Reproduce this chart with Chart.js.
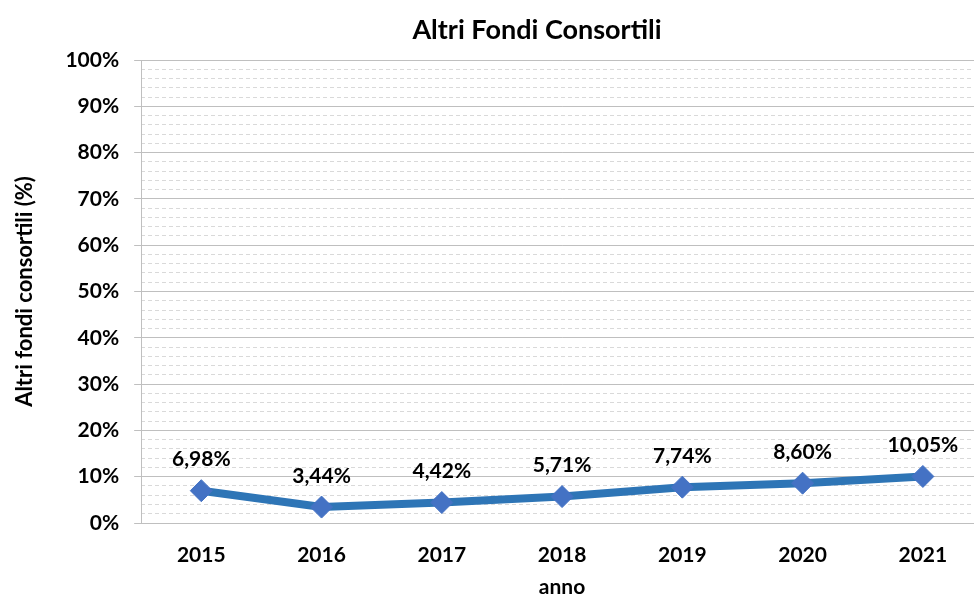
<!DOCTYPE html>
<html>
<head>
<meta charset="utf-8">
<script src="https://cdn.jsdelivr.net/npm/chart.js@4/dist/chart.umd.min.js"></script>
<style>
  html, body { margin: 0; padding: 0; background: #fff; overflow: hidden; }
  /* il grafico originale è tagliato a destra: il canvas è più largo della finestra */
  #wrap { width: 1080px; height: 597px; }
</style>
</head>
<body>
<div id="wrap"><canvas id="chart"></canvas></div>
<script>
// dati
const anni = ["2015", "2016", "2017", "2018", "2019", "2020", "2021"];
const valori = [6.98, 3.44, 4.42, 5.71, 7.74, 8.60, 10.05];
const etichette = ["6,98%", "3,44%", "4,42%", "5,71%", "7,74%", "8,60%", "10,05%"];
const titolo = "Altri Fondi Consortili";

const FONT = "Lato, 'Open Sans', sans-serif";

// titolo (spostato come nell'originale) ed etichette sopra i punti
const etichettePlugin = {
    id: "etichette",
    afterDatasetsDraw(chart) {
        let ctx = chart.ctx;
        let meta = chart.getDatasetMeta(0);
        ctx.save();
        ctx.fillStyle = "#000";
        ctx.textAlign = "center";
        ctx.textBaseline = "middle";
        ctx.font = "bold 27px " + FONT;
        ctx.fillText(titolo, 537, 30);
        ctx.font = "bold 21px " + FONT;
        meta.data.forEach((p, i) => {
            ctx.fillText(etichette[i], p.x, p.y - 31);
        });
        ctx.restore();
    }
};

let ctx = document.getElementById("chart").getContext("2d");
new Chart(ctx, {
    type: "line",
    data: {
        labels: anni,
        datasets: [{
            data: valori,
            borderColor: "#2E75B6",
            borderWidth: 8,
            pointStyle: "rectRot",
            pointRadius: 11,
            pointHoverRadius: 11,
            pointBackgroundColor: "#4472C4",
            pointBorderColor: "#4472C4",
            pointBorderWidth: 1,
            tension: 0
        }]
    },
    options: {
        responsive: true,
        maintainAspectRatio: false,
        animation: false,
        layout: { padding: { top: 60, right: 97, left: 8, bottom: 0 } },
        plugins: {
            legend: { display: false },
            tooltip: { enabled: false },
            title: { display: false }
        },
        scales: {
            x: {
                offset: true,
                afterFit: s => { s.height = 74; s.paddingLeft = 0; s.paddingRight = 0; },
                grid: { display: false, drawTicks: false },
                border: { color: "#bfbfbf", width: 1 },
                ticks: { color: "#000", font: { family: FONT, size: 21, weight: "bold" }, padding: 20 },
                title: { display: true, text: "anno", color: "#000", font: { family: FONT, size: 21, weight: "bold" }, padding: { top: 0, bottom: -3 } }
            },
            yMinor: {
                position: "left",
                min: 0,
                max: 100,
                afterFit: s => { s.width = 0; },
                ticks: { display: false, stepSize: 2 },
                grid: { color: "#d9d9d9", lineWidth: 1, drawTicks: false, borderDash: [4, 3] },
                border: { display: false, dash: [4, 3] }
            },
            y: {
                position: "left",
                min: 0,
                max: 100,
                ticks: {
                    stepSize: 10,
                    color: "#000",
                    font: { family: FONT, size: 21, weight: "bold" },
                    padding: 15,
                    callback: v => v + "%"
                },
                grid: { color: "#bfbfbf", lineWidth: 1, tickLength: 7, tickColor: "#bfbfbf" },
                border: { color: "#bfbfbf", width: 1 },
                title: { display: true, text: "Altri fondi consortili (%)", color: "#000", font: { family: FONT, size: 22, weight: "bold" }, padding: { bottom: 12 } }
            }
        }
    },
    plugins: [etichettePlugin]
});
</script>
</body>
</html>
